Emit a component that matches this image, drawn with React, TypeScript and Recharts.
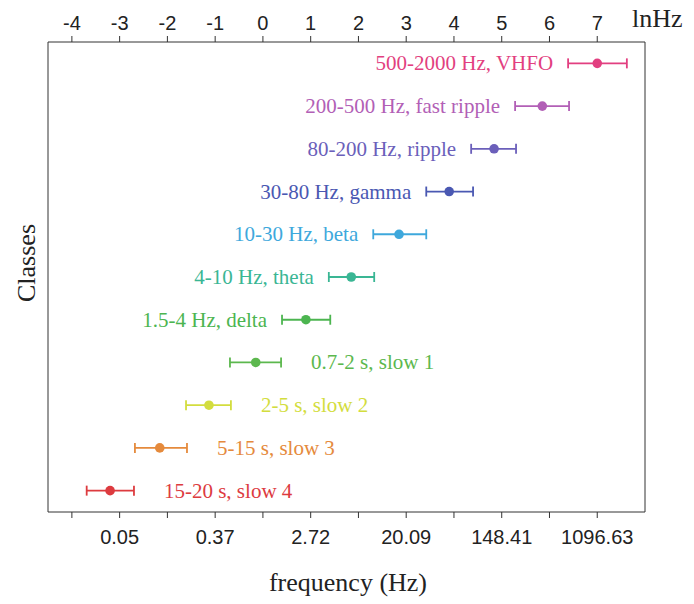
import { ScatterChart, Scatter, XAxis, YAxis, ErrorBar } from 'recharts';

const classNames = [
  '15-20 s, slow 4',
  '5-15 s, slow 3',
  '2-5 s, slow 2',
  '0.7-2 s, slow 1',
  '1.5-4 Hz, delta',
  '4-10 Hz, theta',
  '10-30 Hz, beta',
  '30-80 Hz, gamma',
  '80-200 Hz, ripple',
  '200-500 Hz, fast ripple',
  '500-2000 Hz, VHFO',
];
const means = [-3.2, -2.16, -1.13, -0.15, 0.9, 1.85, 2.85, 3.9, 4.84, 5.85, 7.0];
const lows = [-3.69, -2.68, -1.61, -0.69, 0.4, 1.38, 2.31, 3.42, 4.36, 5.28, 6.39];
const highs = [-2.7, -1.59, -0.67, 0.38, 1.41, 2.33, 3.42, 4.4, 5.3, 6.41, 7.62];
const labelRight = [true, true, true, true, false, false, false, false, false, false, false];
const colors = [
  '#dd3b3f', '#e58a3c', '#d3dd3e', '#5cb84e', '#4cb550', '#3ab694',
  '#3ea8dc', '#4a58b2', '#6b5fba', '#b25fb6', '#e23f80',
];

const lnTicks = [-4, -3, -2, -1, 0, 1, 2, 3, 4, 5, 6, 7];
const freqTickLabels = ['', '0.05', '', '0.37', '', '2.72', '', '20.09', '', '148.41', '', '1096.63'];

const points = classNames.map((name, i) => ({
  name,
  x: means[i],
  y: i,
  err: [means[i] - lows[i], highs[i] - means[i]],
}));

const labelPoints = classNames.map((name, i) => ({
  name,
  x: labelRight[i] ? highs[i] : lows[i],
  y: i,
  right: labelRight[i],
  color: colors[i],
}));

const serif = '"Liberation Serif", "DejaVu Serif", serif';
const sans = '"Liberation Sans", Arial, sans-serif';

const Dot = (color: string) => (props: any) => (
  <circle cx={props.cx} cy={props.cy} r={4.8} fill={color} />
);

const LabelShape = (props: any) => {
  const p = props.payload;
  return (
    <text
      x={p.right ? props.cx + 30 : props.cx - 15}
      y={props.cy}
      dy={7}
      textAnchor={p.right ? 'start' : 'end'}
      fill={p.color}
      fontFamily={serif}
      fontSize={21}
    >
      {p.name}
    </text>
  );
};

const TopTick = (props: any) => (
  <text x={props.x} y={props.y - 4} textAnchor="middle" fill="#222" fontFamily={sans} fontSize={20}>
    {props.payload.value}
  </text>
);

const BottomTick = (props: any) => (
  <text x={props.x} y={props.y + 24} textAnchor="middle" fill="#222" fontFamily={sans} fontSize={20}>
    {freqTickLabels[lnTicks.indexOf(props.payload.value)]}
  </text>
);

export default function App() {
  return (
    <div style={{ position: 'absolute', left: 0, top: 0, background: '#fff' }}>
      <ScatterChart width={694} height={604} margin={{ top: 0, right: 0, bottom: 32, left: 0 }}>
        <XAxis
          xAxisId="top"
          orientation="top"
          type="number"
          dataKey="x"
          domain={[-4.5, 8]}
          allowDataOverflow
          ticks={lnTicks}
          interval={0}
          height={42}
          tickSize={6}
          stroke="#333"
          tick={TopTick}
          label={() => (
            <text x={632} y={27} fontFamily={serif} fontSize={26} fill="#222">
              lnHz
            </text>
          )}
        />
        <XAxis
          xAxisId="bottom"
          orientation="bottom"
          type="number"
          dataKey="x"
          domain={[-4.5, 8]}
          allowDataOverflow
          ticks={lnTicks}
          interval={0}
          height={60}
          tickSize={6}
          stroke="#333"
          tick={BottomTick}
          label={() => (
            <text x={348} y={591} textAnchor="middle" fontFamily={serif} fontSize={26} fill="#222">
              frequency (Hz)
            </text>
          )}
        />
        <YAxis
          yAxisId="left"
          type="number"
          dataKey="y"
          domain={[-0.5, 10.5]}
          width={48}
          tick={false}
          tickLine={false}
          stroke="#333"
          label={() => (
            <text x={35} y={263} transform="rotate(-90 35 263)" textAnchor="middle" fontFamily={serif} fontSize={26} fill="#222">
              Classes
            </text>
          )}
        />
        <YAxis
          yAxisId="right"
          orientation="right"
          type="number"
          dataKey="y"
          domain={[-0.5, 10.5]}
          width={49}
          tick={false}
          tickLine={false}
          stroke="#333"
        />
        {points.map((p, i) => (
          <Scatter
            key={p.name}
            data={[p]}
            xAxisId="bottom"
            yAxisId="left"
            shape={Dot(colors[i])}
            isAnimationActive={false}
          >
            <ErrorBar dataKey="err" direction="x" width={5} stroke={colors[i]} strokeWidth={1.8} isAnimationActive={false} />
          </Scatter>
        ))}
        <Scatter
          data={labelPoints}
          xAxisId="bottom"
          yAxisId="left"
          shape={LabelShape}
          isAnimationActive={false}
        />
      </ScatterChart>
    </div>
  );
}
